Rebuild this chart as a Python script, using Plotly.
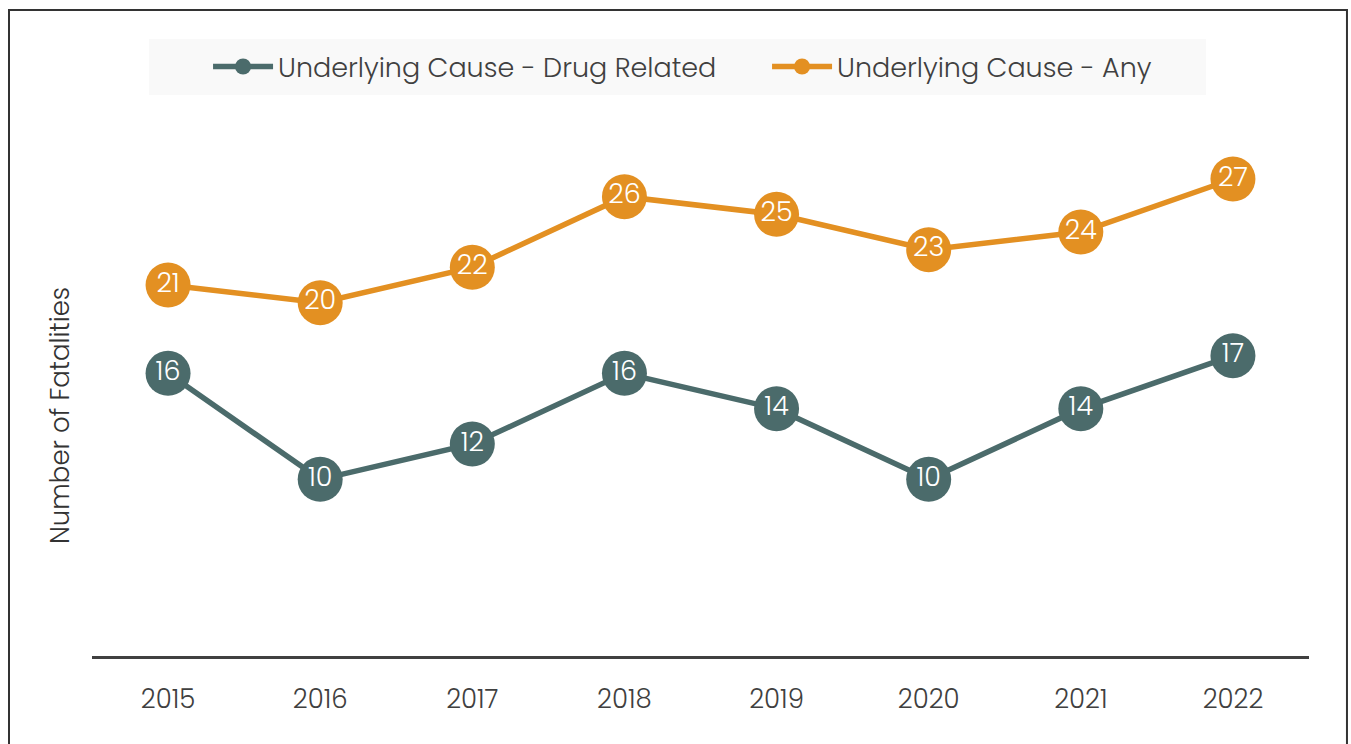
import plotly.graph_objects as go

years = ["2015", "2016", "2017", "2018", "2019", "2020", "2021", "2022"]
drug_related = [16, 10, 12, 16, 14, 10, 14, 17]
any_cause = [21, 20, 22, 26, 25, 23, 24, 27]

TEAL = "#4b6b6b"
ORANGE = "#e39022"
FONT = "Poppins, 'Open Sans', sans-serif"
WEIGHT = 300

fig = go.Figure()

for name, vals, color in [
    ("Underlying Cause - Drug Related", drug_related, TEAL),
    ("Underlying Cause - Any", any_cause, ORANGE),
]:
    fig.add_trace(go.Scatter(
        x=years, y=vals, name=name,
        mode="lines+markers+text",
        line=dict(color=color, width=5.5),
        marker=dict(color=color, size=45),
        text=[str(v) for v in vals],
        textposition="middle center",
        textfont=dict(color="white", size=27, family=FONT, weight=WEIGHT),
        cliponaxis=False,
    ))

# legend background band
fig.add_shape(type="rect", xref="paper", yref="paper",
              x0=0.0468, x1=0.9154, y0=1.0585, y1=1.164,
              fillcolor="#f9f9f9", line=dict(width=0), layer="below")
# outer frame
fig.add_shape(type="rect", xref="paper", yref="paper",
              x0=-0.0682, x1=1.0312, y0=-0.25, y1=1.2189,
              line=dict(color="#333333", width=2), fillcolor="rgba(0,0,0,0)")

fig.add_annotation(text="Number of Fatalities", xref="paper", yref="paper",
                   x=-0.0263, y=0.4547, xanchor="center", yanchor="middle",
                   textangle=-90, showarrow=False,
                   font=dict(size=26, color="#333333", family=FONT, weight=WEIGHT))

fig.update_layout(
    width=1351, height=744,
    margin=dict(l=92, r=42, t=126, b=88),
    paper_bgcolor="white", plot_bgcolor="white",
    font=dict(family=FONT, color="#404040", weight=WEIGHT),
    showlegend=True,
    legend=dict(orientation="h", xref="container", yref="container",
                x=0.1540, xanchor="left", y=0.91, yanchor="middle",
                bgcolor="rgba(0,0,0,0)",
                font=dict(size=27, color="#404040", family=FONT, weight=WEIGHT),
                itemwidth=60, entrywidth=484),
    xaxis=dict(type="category", range=[-0.5, 7.5], showline=True,
               linecolor="#404040", linewidth=3, showgrid=False,
               zeroline=False, ticks="", ticklabelstandoff=18,
               tickfont=dict(size=26, color="#404040", family=FONT, weight=WEIGHT)),
    yaxis=dict(range=[0, 30], showgrid=False, zeroline=False,
               showticklabels=False, showline=False),
)

fig.write_html("out.html")
